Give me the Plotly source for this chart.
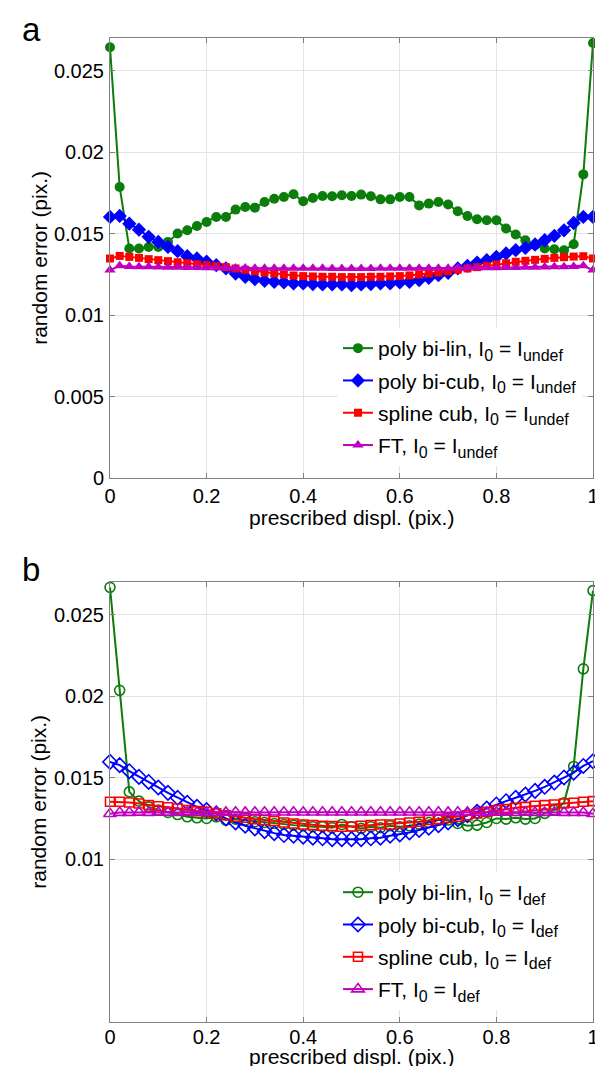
import plotly.graph_objects as go

# ---------------- data ----------------
disp = [0.00, 0.02, 0.04, 0.06, 0.08, 0.10, 0.12, 0.14, 0.16, 0.18,
        0.20, 0.22, 0.24, 0.26, 0.28, 0.30, 0.32, 0.34, 0.36, 0.38,
        0.40, 0.42, 0.44, 0.46, 0.48, 0.50, 0.52, 0.54, 0.56, 0.58,
        0.60, 0.62, 0.64, 0.66, 0.68, 0.70, 0.72, 0.74, 0.76, 0.78,
        0.80, 0.82, 0.84, 0.86, 0.88, 0.90, 0.92, 0.94, 0.96, 0.98, 1.00]

# panel a : I0 = I_undef
a_bilin = [0.02643, 0.01786, 0.01408, 0.01408, 0.01418, 0.01418, 0.01449, 0.01500, 0.01520, 0.01547,
           0.01571, 0.01602, 0.01602, 0.01647, 0.01663, 0.01659, 0.01694, 0.01714, 0.01724, 0.01741,
           0.01698, 0.01718, 0.01731, 0.01729, 0.01735, 0.01731, 0.01739, 0.01729, 0.01710, 0.01710,
           0.01724, 0.01724, 0.01673, 0.01684, 0.01694, 0.01678, 0.01637, 0.01608, 0.01588, 0.01582,
           0.01582, 0.01531, 0.01494, 0.01459, 0.01429, 0.01408, 0.01404, 0.01398, 0.01435, 0.01863, 0.02669]
a_bicub = [0.01602, 0.01608, 0.01561, 0.01524, 0.01480, 0.01449, 0.01418, 0.01392, 0.01361, 0.01347,
           0.01327, 0.01306, 0.01286, 0.01255, 0.01235, 0.01220, 0.01210, 0.01204, 0.01200, 0.01194,
           0.01194, 0.01190, 0.01188, 0.01188, 0.01188, 0.01184, 0.01188, 0.01190, 0.01194, 0.01194,
           0.01200, 0.01204, 0.01214, 0.01229, 0.01245, 0.01259, 0.01286, 0.01302, 0.01322, 0.01337,
           0.01357, 0.01378, 0.01398, 0.01412, 0.01433, 0.01459, 0.01486, 0.01520, 0.01565, 0.01602, 0.01602]
a_spline = [0.01347, 0.01363, 0.01357, 0.01351, 0.01343, 0.01337, 0.01331, 0.01324, 0.01318, 0.01312,
            0.01306, 0.01300, 0.01294, 0.01286, 0.01278, 0.01269, 0.01261, 0.01255, 0.01249, 0.01243,
            0.01239, 0.01237, 0.01235, 0.01235, 0.01233, 0.01233, 0.01233, 0.01235, 0.01235, 0.01237,
            0.01239, 0.01243, 0.01249, 0.01255, 0.01261, 0.01269, 0.01278, 0.01286, 0.01294, 0.01302,
            0.01310, 0.01318, 0.01327, 0.01333, 0.01339, 0.01345, 0.01351, 0.01355, 0.01359, 0.01361, 0.01347]
a_ft = [0.01276, 0.01302, 0.01298, 0.01297, 0.01296, 0.01295, 0.01294, 0.01293, 0.01292, 0.01292,
        0.01291, 0.01290, 0.01290, 0.01289, 0.01289, 0.01288, 0.01288, 0.01288, 0.01287, 0.01287,
        0.01287, 0.01287, 0.01287, 0.01286, 0.01286, 0.01286, 0.01286, 0.01286, 0.01287, 0.01287,
        0.01287, 0.01287, 0.01287, 0.01288, 0.01288, 0.01288, 0.01289, 0.01289, 0.01290, 0.01290,
        0.01291, 0.01292, 0.01292, 0.01293, 0.01294, 0.01295, 0.01296, 0.01297, 0.01298, 0.01302, 0.01276]

# panel b : I0 = I_def
b_bilin = [0.02667, 0.02035, 0.01412, 0.01355, 0.01320, 0.01300, 0.01286, 0.01273, 0.01259, 0.01253,
           0.01249, 0.01259, 0.01239, 0.01245, 0.01239, 0.01229, 0.01224, 0.01218, 0.01212, 0.01208,
           0.01204, 0.01198, 0.01198, 0.01192, 0.01212, 0.01198, 0.01188, 0.01198, 0.01192, 0.01204,
           0.01198, 0.01204, 0.01214, 0.01224, 0.01239, 0.01239, 0.01218, 0.01204, 0.01208, 0.01224,
           0.01249, 0.01245, 0.01253, 0.01245, 0.01249, 0.01280, 0.01300, 0.01345, 0.01568, 0.02167, 0.02647]
b_bicub = [0.01596, 0.01576, 0.01539, 0.01504, 0.01473, 0.01439, 0.01406, 0.01376, 0.01345, 0.01320,
           0.01300, 0.01280, 0.01249, 0.01224, 0.01204, 0.01188, 0.01171, 0.01159, 0.01147, 0.01143,
           0.01137, 0.01131, 0.01127, 0.01122, 0.01122, 0.01122, 0.01122, 0.01127, 0.01131, 0.01143,
           0.01151, 0.01163, 0.01178, 0.01192, 0.01208, 0.01224, 0.01245, 0.01269, 0.01290, 0.01310,
           0.01335, 0.01355, 0.01376, 0.01396, 0.01418, 0.01443, 0.01469, 0.01500, 0.01530, 0.01571, 0.01600]
b_spline = [0.01351, 0.01351, 0.01347, 0.01341, 0.01331, 0.01324, 0.01318, 0.01310, 0.01300, 0.01294,
            0.01290, 0.01280, 0.01269, 0.01259, 0.01253, 0.01245, 0.01239, 0.01233, 0.01224, 0.01218,
            0.01212, 0.01208, 0.01204, 0.01202, 0.01198, 0.01200, 0.01204, 0.01208, 0.01212, 0.01212,
            0.01218, 0.01224, 0.01229, 0.01239, 0.01245, 0.01253, 0.01259, 0.01269, 0.01280, 0.01290,
            0.01300, 0.01306, 0.01314, 0.01320, 0.01327, 0.01331, 0.01335, 0.01341, 0.01345, 0.01351, 0.01355]
b_ft = [0.01278, 0.01285, 0.01285, 0.01286, 0.01285, 0.01286, 0.01286, 0.01285, 0.01286, 0.01286,
        0.01286, 0.01286, 0.01286, 0.01287, 0.01286, 0.01287, 0.01287, 0.01287, 0.01287, 0.01287,
        0.01287, 0.01287, 0.01287, 0.01287, 0.01287, 0.01287, 0.01287, 0.01287, 0.01287, 0.01287,
        0.01287, 0.01287, 0.01287, 0.01287, 0.01287, 0.01286, 0.01287, 0.01286, 0.01286, 0.01286,
        0.01286, 0.01286, 0.01285, 0.01286, 0.01285, 0.01285, 0.01286, 0.01285, 0.01285, 0.01285, 0.01278]

x_ticks = [0, 0.2, 0.4, 0.6, 0.8, 1]
x_ticktext = ["0", "0.2", "0.4", "0.6", "0.8", "1"]
ya_ticks = [0, 0.005, 0.01, 0.015, 0.02, 0.025]
ya_ticktext = ["0", "0.005", "0.01", "0.015", "0.02", "0.025"]
yb_ticks = [0.01, 0.015, 0.02, 0.025]
yb_ticktext = ["0.01", "0.015", "0.02", "0.025"]

x_title = "prescribed displ. (pix.)"
y_title = "random error (pix.)"
names = ["poly bi-lin", "poly bi-cub", "spline cub", "FT"]
colors = ["#0a7d0a", "#0000ff", "#ff0000", "#bf00bf"]

# ---------------- figure ----------------
FONT = "Liberation Sans, Arial, Helvetica, sans-serif"
FS = 21
TFS = 20
fig = go.Figure()

a_series = [a_bilin, a_bicub, a_spline, a_ft]
b_series = [b_bilin, b_bicub, b_spline, b_ft]
a_sym = ["circle", "diamond", "square", "triangle-up"]
a_size = [10, 11, 8, 10]
b_sym = ["circle-open", "diamond-open", "square-open", "triangle-up-open"]
b_size = [10, 11, 9, 11]


def sub(t):
    return "<sub><span style='font-size:16px'>" + t + "</span></sub>"


for k, (vals, name, col, sym, sz) in enumerate(zip(a_series, names, colors, a_sym, a_size)):
    fig.add_trace(go.Scatter(
        x=disp, y=vals, mode="lines+markers", cliponaxis=False,
        name=name + ", I" + sub("0") + " = I" + sub("undef"),
        legendgroup="a%d" % k,
        line=dict(color=col, width=2),
        marker=dict(symbol=sym, size=sz, color=col, line=dict(width=0)),
        xaxis="x", yaxis="y", legend="legend"))

for k, (vals, name, col, sym, sz) in enumerate(zip(b_series, names, colors, b_sym, b_size)):
    fig.add_trace(go.Scatter(
        x=disp, y=vals, mode="lines+markers", cliponaxis=False,
        name=name + ", I" + sub("0") + " = I" + sub("def"),
        legendgroup="b%d" % k,
        line=dict(color=col, width=2),
        marker=dict(symbol=sym, size=sz, color=col, line=dict(width=1.6, color=col)),
        xaxis="x2", yaxis="y2", legend="legend2"))

axis_common = dict(
    showgrid=True, gridcolor="#e3e3e3", gridwidth=1,
    showline=True, linecolor="#808080", linewidth=1, mirror="ticks",
    ticks="inside", ticklen=5, tickcolor="#808080",
    zeroline=False, tickfont=dict(size=TFS, color="black", family=FONT),
)

xcommon = dict(axis_common, range=[0, 1], tickvals=x_ticks, ticktext=x_ticktext)
ycommon = dict(axis_common, range=[0, 0.027], ticklabelstandoff=1)

legend_common = dict(xanchor="left", yanchor="top", bgcolor="white", borderwidth=0,
                     tracegroupgap=2, font=dict(size=FS, family=FONT, color="black"))

title_font = dict(size=FS, family=FONT, color="black")
annotations = [
    dict(text="a", x=-0.187, y=1.0295, xref="paper", yref="paper", xanchor="left",
         yanchor="top", showarrow=False, font=dict(size=33, family=FONT, color="black")),
    dict(text="b", x=-0.187, y=0.4807, xref="paper", yref="paper", xanchor="left",
         yanchor="top", showarrow=False, font=dict(size=33, family=FONT, color="black")),
    # axis titles
    dict(text=x_title, x=0.5, y=0.5132, xref="paper", yref="paper", xanchor="center",
         yanchor="middle", showarrow=False, font=title_font),
    dict(text=x_title, x=0.5, y=-0.0352, xref="paper", yref="paper", xanchor="center",
         yanchor="middle", showarrow=False, font=title_font),
    dict(text=y_title, x=-0.1474, y=0.7764, xref="paper", yref="paper", xanchor="center",
         yanchor="middle", textangle=-90, showarrow=False, font=title_font),
    dict(text=y_title, x=-0.1474, y=0.2236, xref="paper", yref="paper", xanchor="center",
         yanchor="middle", textangle=-90, showarrow=False, font=title_font),
]

fig.update_layout(
    width=603, height=1066,
    margin=dict(l=102, r=16, t=30, b=52),
    paper_bgcolor="white", plot_bgcolor="white",
    font=dict(family=FONT, size=FS, color="black"),
    xaxis=dict(xcommon, domain=[0, 1], anchor="y", ticklabelstandoff=0),
    yaxis=dict(ycommon, domain=[0.5528, 1], anchor="x",
               tickvals=ya_ticks, ticktext=ya_ticktext),
    xaxis2=dict(xcommon, domain=[0, 1], anchor="y2", ticklabelstandoff=-3),
    yaxis2=dict(ycommon, domain=[0, 0.4472], anchor="x2",
                tickvals=yb_ticks, ticktext=yb_ticktext),
    legend=dict(legend_common, x=0.472, y=0.7053),
    legend2=dict(legend_common, x=0.472, y=0.1524),
    showlegend=True,
    annotations=annotations,
)

fig.write_html("out.html")
